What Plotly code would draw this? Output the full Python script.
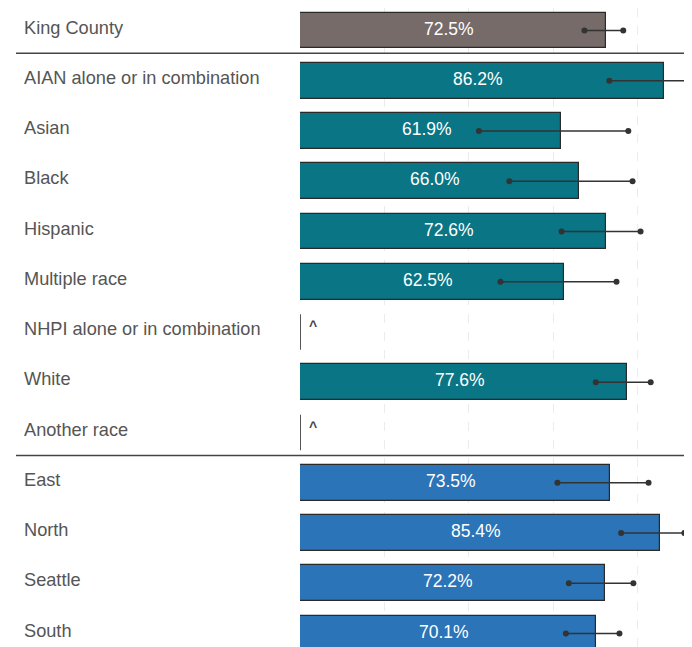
import plotly.graph_objects as go

categories = ["King County", "AIAN alone or in combination", "Asian", "Black", "Hispanic",
              "Multiple race", "NHPI alone or in combination", "White", "Another race",
              "East", "North", "Seattle", "South"]
values = [72.5, 86.2, 61.9, 66.0, 72.6, 62.5, None, 77.6, None, 73.5, 85.4, 72.2, 70.1]
ci_low = [67.4, 73.3, 42.4, 49.6, 62.0, 47.5, None, 70.1, None, 61.0, 76.1, 63.7, 63.0]
ci_high = [76.6, 92.6, 77.8, 78.8, 80.7, 75.0, None, 83.1, None, 82.6, 91.1, 79.0, 75.7]
groups = ["total", "race", "race", "race", "race", "race", "race", "race", "race",
          "region", "region", "region", "region"]
group_colors = {"total": "#766b69", "race": "#0a7585", "region": "#2b74b7"}

FONT = "Liberation Sans, Arial, sans-serif"
BAR_W = 0.71
PAGE_OFF = 8  # default body margin of the html page
W_PX, H_PX = 692 - PAGE_OFF, 647 - PAGE_OFF
L_PX = 300 - PAGE_OFF
ROW_PX, FIRST_PX = 50.25, 30.5 - PAGE_OFF

ypos = list(range(len(categories)))
fig = go.Figure()

# bars
shown = [i for i, v in enumerate(values) if v is not None]
fig.add_trace(go.Bar(
    x=[values[i] for i in shown], y=[ypos[i] for i in shown], orientation="h",
    width=BAR_W,
    marker=dict(color=[group_colors[groups[i]] for i in shown],
                line=dict(color="#2a2a2a", width=1.2)),
    hoverinfo="skip", showlegend=False,
))

# value labels inside bars
for i in shown:
    fig.add_annotation(x=values[i] / 2, y=ypos[i], xref="x", yref="y",
                       text=f"{values[i]:.1f}%", showarrow=False, xshift=-4, yshift=2,
                       font=dict(color="white", size=17.5, family=FONT))

# error bars
ex, ey = [], []
for i in shown:
    ex += [ci_low[i], ci_high[i], None]
    ey += [ypos[i], ypos[i], None]
fig.add_trace(go.Scatter(
    x=ex, y=ey, mode="lines+markers",
    line=dict(color="#333333", width=1.5),
    marker=dict(color="#333333", size=6),
    hoverinfo="skip", showlegend=False,
))

# suppressed rows: zero line + caret
sup = [i for i, v in enumerate(values) if v is None]
sx, sy = [], []
for i in sup:
    sx += [0, 0, None]
    sy += [ypos[i] - BAR_W / 2, ypos[i] + BAR_W / 2, None]
fig.add_trace(go.Scatter(x=sx, y=sy, mode="lines", line=dict(color="#555555", width=2),
                         hoverinfo="skip", showlegend=False))
for i in sup:
    fig.add_annotation(x=0, y=ypos[i], xref="x", yref="y", text="<b>^</b>", showarrow=False,
                       xanchor="left", xshift=7, yshift=6,
                       font=dict(size=14, color="#444444", family=FONT))

# category labels
for i, c in enumerate(categories):
    fig.add_annotation(x=(22 - PAGE_OFF) / W_PX, y=ypos[i], xref="paper", yref="y", text=c,
                       showarrow=False, xanchor="left", yshift=3,
                       font=dict(size=18.2, color="#555555", family=FONT))

# group separators
for b in [0.455, 8.46]:
    fig.add_shape(type="line", xref="paper", yref="y", x0=(16 - PAGE_OFF) / W_PX, x1=1,
                  y0=b, y1=b, line=dict(color="#444444", width=1.5))

px_per = 4.22
xmax = (W_PX - L_PX) / px_per
ytop = -FIRST_PX / ROW_PX
ybot = (H_PX - FIRST_PX) / ROW_PX

fig.update_layout(
    width=W_PX, height=H_PX,
    margin=dict(l=0, r=0, t=0, b=0),
    plot_bgcolor="white", paper_bgcolor="white",
    bargap=0,
    xaxis=dict(domain=[L_PX / W_PX, 1], range=[0, xmax], showticklabels=False,
               tickvals=[20, 40, 60, 80], showgrid=True, gridcolor="#ececec",
               griddash="dash", gridwidth=1, zeroline=False, showline=False, ticks=""),
    yaxis=dict(range=[ybot, ytop], showticklabels=False, showgrid=False,
               zeroline=False, showline=False, ticks=""),
)

fig.write_html("out.html")
